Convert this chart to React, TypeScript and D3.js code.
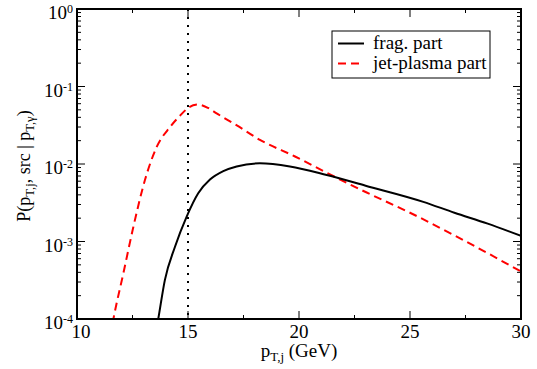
import { useEffect, useRef } from 'react'
import * as d3 from 'd3'

// pT,j (GeV) and probability values
const fragPt = [13.5, 13.66, 13.96, 14.41, 14.94, 15.46, 15.99, 16.59, 17.19, 18.24, 19.59, 21.25, 23, 25.6, 27, 28.5, 30]
const fragP = [5.5e-5, 1.0e-4, 3.2e-4, 8.5e-4, 2.1e-3, 4.2e-3, 6.3e-3, 8.1e-3, 9.3e-3, 1.02e-2, 9.3e-3, 7.2e-3, 5.25e-3, 3.25e-3, 2.35e-3, 1.7e-3, 1.18e-3]

const jetPt = [11.5, 11.64, 12.09, 12.54, 13.06, 13.59, 14.19, 14.64, 15.05, 15.45, 15.9, 16.29, 17.2, 18.24, 19.82, 21.25, 23, 25, 27, 30]
const jetP = [6e-5, 1.0e-4, 3.9e-4, 1.55e-3, 6.2e-3, 1.66e-2, 3.0e-2, 4.2e-2, 5.4e-2, 5.85e-2, 5.3e-2, 4.5e-2, 3.15e-2, 2.05e-2, 1.25e-2, 7.7e-3, 4.35e-3, 2.35e-3, 1.2e-3, 4.1e-4]

const xTicks = [10, 15, 20, 25, 30]
const xMinor = [12.5, 17.5, 22.5, 27.5]
const yExps = [0, -1, -2, -3, -4]

const App = () => {
  const svgRef = useRef<SVGSVGElement>(null)

  useEffect(() => {
    if (!svgRef.current) return
    const root = d3.select(svgRef.current)
    root.selectAll('*').remove()

    const left = 77, right = 521, top = 9, bottom = 319
    const x = d3.scaleLinear().domain([10, 30]).range([left, right])
    const y = d3.scaleLog().domain([1e-4, 1]).range([bottom, top])

    root.append('defs').append('clipPath').attr('id', 'plot')
      .append('rect').attr('x', left).attr('y', top)
      .attr('width', right - left).attr('height', bottom - top)

    // vertical dotted line at 15 GeV
    root.append('line')
      .attr('x1', x(15)).attr('x2', x(15))
      .attr('y1', top).attr('y2', bottom)
      .attr('stroke', '#000').attr('stroke-width', 2)
      .attr('stroke-dasharray', '2,6')

    const line = d3.line<[number, number]>()
      .x(d => x(d[0])).y(d => y(d[1]))
      .curve(d3.curveMonotoneX)

    const g = root.append('g').attr('clip-path', 'url(#plot)')
    g.append('path')
      .attr('d', line(jetPt.map((p, i) => [p, jetP[i]] as [number, number])))
      .attr('fill', 'none').attr('stroke', '#ff0000').attr('stroke-width', 2)
      .attr('stroke-dasharray', '8,5')
    g.append('path')
      .attr('d', line(fragPt.map((p, i) => [p, fragP[i]] as [number, number])))
      .attr('fill', 'none').attr('stroke', '#000').attr('stroke-width', 2)

    // ticks
    const ticks = root.append('g').attr('stroke', '#000').attr('stroke-width', 1)
    xTicks.slice(1, -1).forEach(t => {
      ticks.append('line').attr('x1', x(t)).attr('x2', x(t)).attr('y1', bottom).attr('y2', bottom - 8)
      ticks.append('line').attr('x1', x(t)).attr('x2', x(t)).attr('y1', top).attr('y2', top + 8)
    })
    xMinor.forEach(t => {
      ticks.append('line').attr('x1', x(t)).attr('x2', x(t)).attr('y1', bottom).attr('y2', bottom - 4)
      ticks.append('line').attr('x1', x(t)).attr('x2', x(t)).attr('y1', top).attr('y2', top + 4)
    })
    yExps.forEach(e => {
      const v = Math.pow(10, e)
      if (e !== 0 && e !== -4) {
        ticks.append('line').attr('x1', left).attr('x2', left + 8).attr('y1', y(v)).attr('y2', y(v))
        ticks.append('line').attr('x1', right).attr('x2', right - 8).attr('y1', y(v)).attr('y2', y(v))
      }
      if (e < 0) {
        for (let k = 2; k <= 9; k++) {
          const m = v * k
          ticks.append('line').attr('x1', left).attr('x2', left + 4).attr('y1', y(m)).attr('y2', y(m))
          ticks.append('line').attr('x1', right).attr('x2', right - 4).attr('y1', y(m)).attr('y2', y(m))
        }
      }
    })

    // frame
    root.append('rect')
      .attr('x', left).attr('y', top)
      .attr('width', right - left).attr('height', bottom - top)
      .attr('fill', 'none').attr('stroke', '#000').attr('stroke-width', 2)

    // tick labels
    xTicks.forEach(t => {
      root.append('text')
        .attr('x', x(t) + (t === 10 ? 4 : 0)).attr('y', 338)
        .attr('text-anchor', 'middle')
        .attr('font-size', 19)
        .text(String(t))
    })
    yExps.forEach(e => {
      const tx = root.append('text')
        .attr('x', 73).attr('y', y(Math.pow(10, e)) + 10)
        .attr('text-anchor', 'end')
        .attr('font-size', 19)
      tx.append('tspan').text('10')
      tx.append('tspan').attr('dy', -6).attr('font-size', 12).text(String(e))
    })

    // axis titles
    const xl = root.append('text')
      .attr('x', 299).attr('y', 357)
      .attr('text-anchor', 'middle')
      .attr('font-size', 19)
    xl.append('tspan').text('p')
    xl.append('tspan').attr('dy', 4).attr('font-size', 13).text('T,j')
    xl.append('tspan').attr('dy', -4).text(' (GeV)')

    const yl = root.append('text')
      .attr('transform', 'translate(30,166) rotate(-90)')
      .attr('text-anchor', 'middle')
      .attr('font-size', 18)
    yl.append('tspan').text('P(p')
    yl.append('tspan').attr('dy', 4).attr('font-size', 12.5).text('T,j')
    yl.append('tspan').attr('dy', -4).text(', src | p')
    yl.append('tspan').attr('dy', 4).attr('font-size', 12.5).text('T,γ')
    yl.append('tspan').attr('dy', -4).text(')')

    // legend
    const lg = root.append('g')
    lg.append('rect')
      .attr('x', 332).attr('y', 31).attr('width', 158).attr('height', 47)
      .attr('fill', '#fff').attr('stroke', '#000').attr('stroke-width', 1)
    const items = [
      { label: 'frag. part', color: '#000', dash: null as string | null },
      { label: 'jet-plasma part', color: '#ff0000', dash: '8,5' },
    ]
    items.forEach((it, i) => {
      const cy = 43.5 + i * 20
      lg.append('line')
        .attr('x1', 338).attr('x2', 364).attr('y1', cy).attr('y2', cy)
        .attr('stroke', it.color).attr('stroke-width', 2)
        .attr('stroke-dasharray', it.dash)
      lg.append('text')
        .attr('x', 373).attr('y', cy + 5.5)
        .attr('font-size', 19)
        .text(it.label)
    })
  }, [])

  return (
    <svg
      ref={svgRef}
      width={537}
      height={369}
      fontFamily="'Liberation Serif', serif"
      style={{ display: 'block', position: 'absolute', left: 0, top: 0 }}
    />
  )
}

export default App
